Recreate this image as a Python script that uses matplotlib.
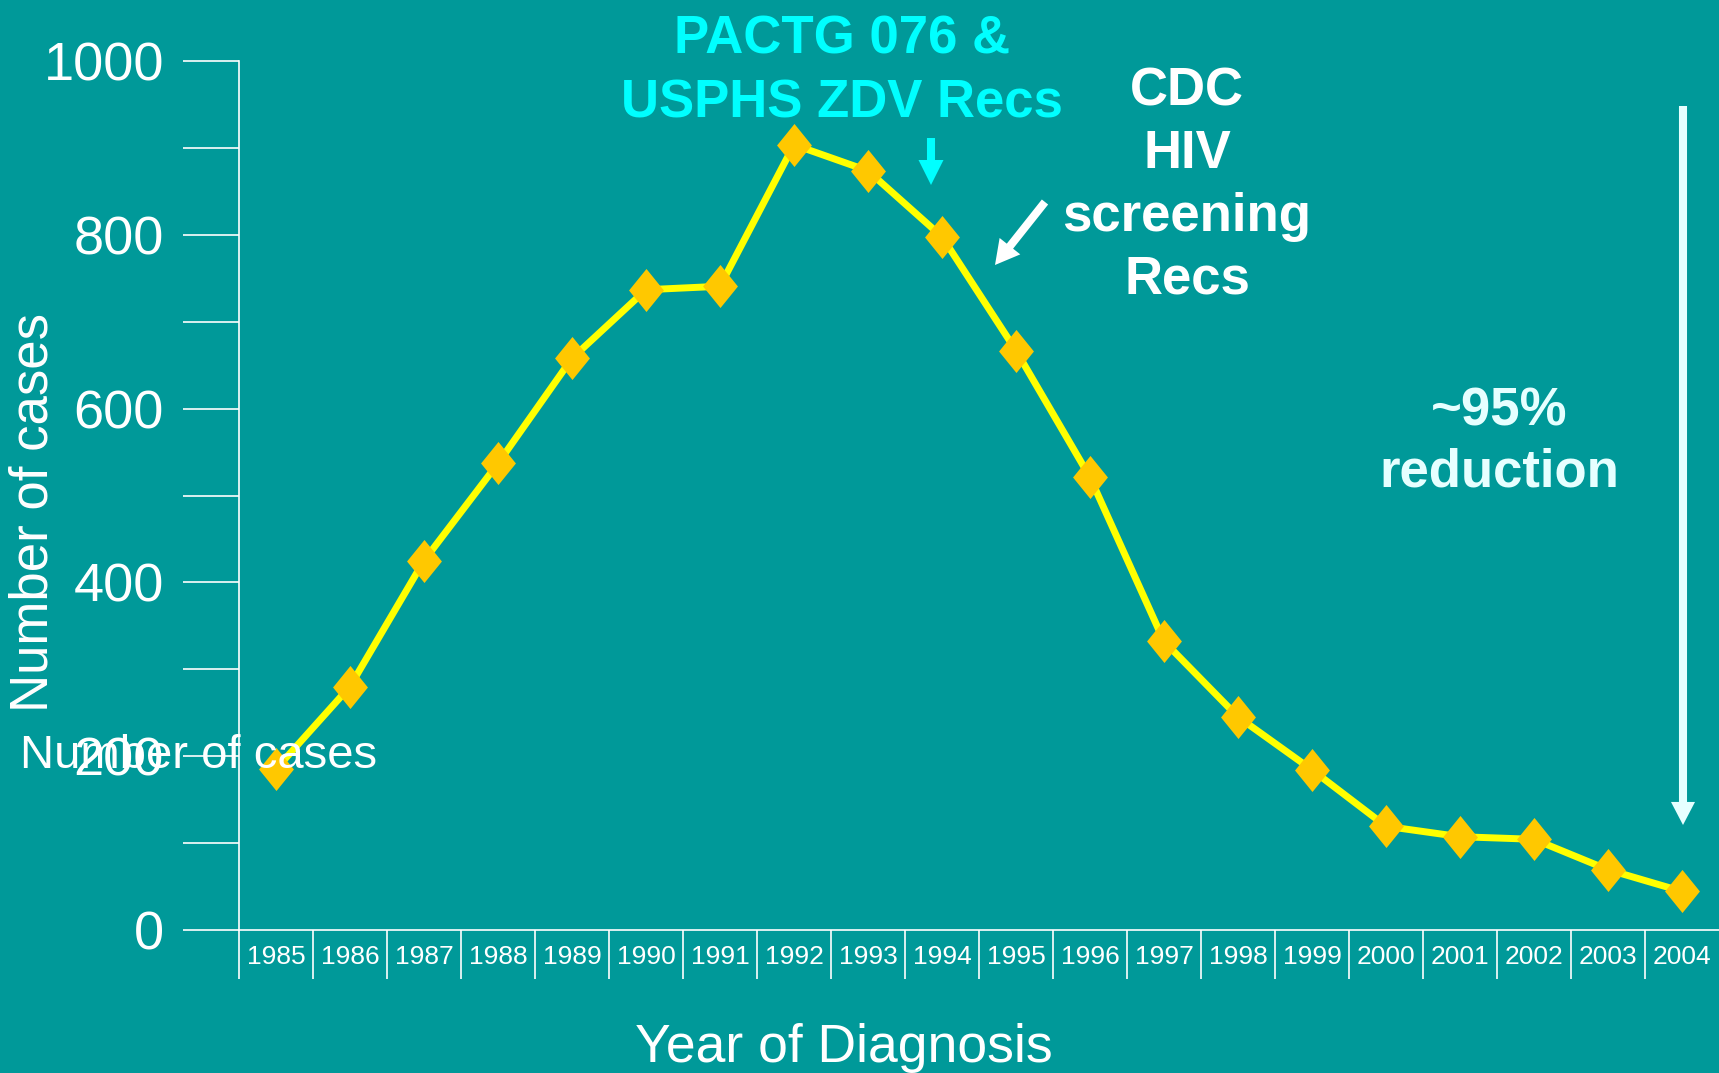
import matplotlib
matplotlib.use("Agg")
import matplotlib.pyplot as plt
from matplotlib.patches import FancyArrowPatch
import numpy as np

years = ["1985", "1986", "1987", "1988", "1989", "1990", "1991", "1992", "1993", "1994",
         "1995", "1996", "1997", "1998", "1999", "2000", "2001", "2002", "2003", "2004"]
cases = [185, 280, 425, 537, 658, 737, 741, 904, 874, 798,
         667, 521, 332, 245, 184, 119, 107, 104, 69, 44]
y_major = [0, 200, 400, 600, 800, 1000]
y_minor = [100, 300, 500, 700, 900]

BG = "#009999"
plt.rcParams['font.family'] = ['Liberation Sans', 'DejaVu Sans']

W, H = 1719, 1073
fig = plt.figure(figsize=(W / 100, H / 100), dpi=100, facecolor=BG)
ax = fig.add_axes([239 / W, 1 - 929.6 / H, 1 - 239 / W, (929.6 - 61.4) / H])
ax.set_facecolor(BG)

diamond = [(-0.81, 0), (0, 1), (0.81, 0), (0, -1), (-0.81, 0)]
x = np.arange(len(years))
ax.plot(x, cases, color="#FFFF00", lw=5, marker=diamond, ms=31,
        markerfacecolor="#FFC800", markeredgewidth=0, zorder=3, clip_on=False)

ax.set_xlim(-0.5, len(years) - 0.5)
ax.set_ylim(0, 1000)

for s in ["top", "right"]:
    ax.spines[s].set_visible(False)
for s in ["left", "bottom"]:
    ax.spines[s].set_color("white")
    ax.spines[s].set_linewidth(1.2)

ax.set_xticks(x)
ax.set_xticklabels(years)
ax.set_xticks(np.arange(-0.5, len(years) - 0.5, 1.0), minor=True)
ax.tick_params(axis="x", which="major", length=0, pad=11, labelsize=19, labelcolor="white")
ax.tick_params(axis="x", which="minor", length=35, width=1.2, color="white", direction="out")

ax.set_yticks(y_major)
ax.set_yticks(y_minor, minor=True)
ax.tick_params(axis="y", which="both", length=40, width=1.2, color="white", direction="out")
ax.tick_params(axis="y", which="major", pad=14, labelsize=39, labelcolor="white")

# axis titles
fig.text(33 / W, 1 - 512 / H, "Number of cases", rotation=90, color="white",
         fontsize=38, ha="center", va="center")
fig.text(20 / W, 1 - 756 / H, "Number of cases", color="white",
         fontsize=34, ha="left", va="center")
fig.text(844 / W, 1 - 1048 / H, "Year of Diagnosis", color="white",
         fontsize=38.5, ha="center", va="center")

# annotations
fig.text(842 / W, 1 - 71.5 / H, "PACTG 076 &\nUSPHS ZDV Recs", color="#00FFFF",
         fontsize=38, fontweight="bold", ha="center", va="center", linespacing=1.36)
fig.text(1187 / W, 1 - 185.7 / H, "CDC\nHIV\nscreening\nRecs", color="white",
         fontsize=38, fontweight="bold", ha="center", va="center", linespacing=1.32)
fig.text(1499 / W, 1 - 442 / H, "~95%\nreduction", color="#E6FFFF",
         fontsize=38, fontweight="bold", ha="center", va="center", linespacing=1.26)


def farrow(x0, y0, x1, y1, color, tw, hw, hl):
    p = FancyArrowPatch((x0 / W, 1 - y0 / H), (x1 / W, 1 - y1 / H),
                        transform=fig.transFigure,
                        arrowstyle=f"simple,head_length={hl},head_width={hw},tail_width={tw}",
                        mutation_scale=1, color=color, shrinkA=0, shrinkB=0, lw=0)
    fig.patches.append(p)


farrow(931, 138, 931, 185, "#00FFFF", 5.8, 18, 18)
farrow(1045, 202, 995, 265, "white", 5.8, 19, 17.3)
farrow(1683, 106, 1683, 825, "#E6FFFF", 5.8, 17.3, 16.6)

fig.savefig("out.png", dpi=100, facecolor=BG)
